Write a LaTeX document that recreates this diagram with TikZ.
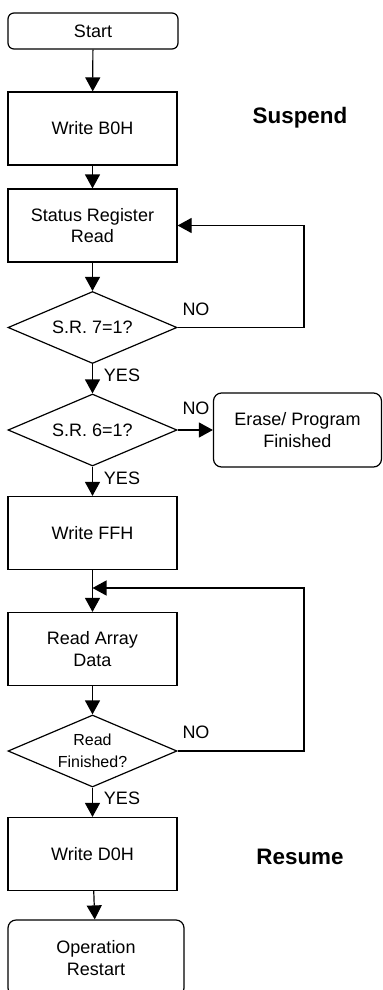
\documentclass[tikz,border=0pt]{standalone}
\usepackage{fontspec}
\setmainfont{Liberation Sans}
\usetikzlibrary{shapes.geometric,arrows.meta}
\begin{document}
\begin{tikzpicture}[x=0.5pt,y=-0.5pt,line width=0.6pt,
	font=\fontsize{9}{10.8}\selectfont,
	arr/.style={-{Triangle[length=7pt,width=7.5pt]}},
	stepbox/.style={draw, rectangle, minimum width=84.5pt, minimum height=36.5pt, align=center, inner sep=0pt},
	endbox/.style={draw, rectangle, rounded corners=3pt, align=center, inner sep=0pt},
	test/.style={draw, diamond, aspect=2.4, minimum width=84.5pt, minimum height=36pt, align=center, inner sep=0pt},
	answer/.style={inner sep=0pt},
	phase/.style={inner sep=0pt, font=\fontsize{11.2}{13}\selectfont\bfseries}]
	\useasboundingbox (0,0) rectangle (382,990);
	\node [endbox, minimum width=85pt, minimum height=18pt] (start) at (93,31) {Start};
	\node [stepbox] (wb0) at (92.5,128.5) {Write B0H};
	\node [stepbox] (srr) at (92.5,225.5) {Status Register\\Read};
	\node [test] (d1) at (92.5,327.5) {S.R. 7=1?};
	\node [test] (d2) at (92.5,430) {S.R. 6=1?};
	\node [endbox, rounded corners=4pt, minimum width=84pt, minimum height=37pt] (erase) at (297.5,430) {Erase/ Program\\Finished};
	\node [stepbox] (wff) at (92.5,533) {Write FFH};
	\node [stepbox] (rad) at (92.5,649) {Read Array\\Data};
	\node [test, font=\fontsize{8}{11}\selectfont] (d3) at (92.5,751) {Read\\Finished?};
	\node [stepbox] (wd0) at (92.5,854) {Write D0H};
	\node [endbox, rounded corners=4pt, minimum width=88pt, minimum height=38pt] (opr) at (96,958) {Operation\\Restart};
	\node [phase] (susp) at (300,118) {Suspend};
	\node [phase] (resm) at (300,857) {Resume};
	\node [answer] (no1) at (196,309) {NO};
	\node [answer] (yes1) at (122,375) {YES};
	\node [answer] (no2) at (196,408) {NO};
	\node [answer] (yes2) at (122,478) {YES};
	\node [answer] (no3) at (196,732) {NO};
	\node [answer] (yes3) at (122,798) {YES};
	\coordinate (fb1) at (304,225.5);
	\coordinate (fb2) at (304,588);
	\coordinate (mrg) at (92.5,588);
	\draw [arr] (start) -- (wb0);
	\draw [arr] (wb0) -- (srr);
	\draw [arr] (srr) -- (d1);
	\draw [arr] (d1.east) -| (fb1) -- (srr.east);
	\draw [arr] (d1) -- (d2);
	\draw [arr] (d2) -- (erase);
	\draw [arr] (d2) -- (wff);
	\draw [arr] (wff) -- (rad);
	\draw [arr] (d3.east) -| (fb2) -- (mrg);
	\draw [arr] (rad) -- (d3);
	\draw [arr] (d3) -- (wd0);
	\draw [arr] (wd0) -- (opr);
\end{tikzpicture}
\end{document}
